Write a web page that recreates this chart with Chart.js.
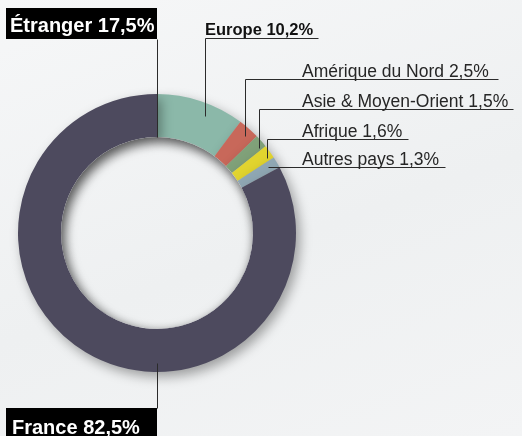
<!DOCTYPE html>
<html lang="fr">
<head>
  <meta charset="UTF-8" />
  <title>Répartition France / Étranger</title>
  <script src="https://cdn.jsdelivr.net/npm/chart.js"></script>
  <style>
    html, body {
      margin: 0;
      padding: 0;
      width: 522px;
      height: 436px;
      overflow: hidden;
      background: linear-gradient(160deg, #f6f7f8 0%, #eef0f1 55%, #f3f4f5 100%);
    }
    #wrap { width: 522px; height: 436px; position: relative; }
  </style>
</head>
<body>
<div id="wrap"><canvas id="donut" width="522" height="436"></canvas></div>

<script>
  // data
  const regions = ['Europe', 'Amérique du Nord', 'Asie & Moyen-Orient', 'Afrique', 'Autres pays', 'France'];
  const shares = [10.2, 2.5, 1.5, 1.6, 1.3, 82.5];
  const sliceColors = ['#8bb8a9', '#c8685a', '#80a179', '#e1d42f', '#8fa7b3', '#4d4a5e'];
  const labelTexts = ['Europe 10,2%', 'Amérique du Nord 2,5%', 'Asie & Moyen-Orient 1,5%', 'Afrique 1,6%', 'Autres pays 1,3%'];
  const abroadLabel = 'Étranger 17,5%';
  const franceLabel = 'France 82,5%';

  const FONT = '"Liberation Sans", Arial, sans-serif';

  // drop shadow around the ring
  const ringShadow = {
    id: 'ringShadow',
    beforeDatasetDraw(chart) {
      const ctx = chart.ctx;
      ctx.save();
      ctx.shadowColor = 'rgba(0,0,0,0.35)';
      ctx.shadowBlur = 12;
      ctx.shadowOffsetX = 4;
      ctx.shadowOffsetY = 5;
    },
    afterDatasetDraw(chart) {
      chart.ctx.restore();
    }
  };

  // inset shadow in the hole + leader lines and labels
  const callouts = {
    id: 'callouts',
    afterDraw(chart) {
      const ctx = chart.ctx;
      const arcs = chart.getDatasetMeta(0).data;
      const a0 = arcs[0];
      const cx = a0.x, cy = a0.y, R = a0.outerRadius, r = a0.innerRadius;

      // hole inset shadow
      ctx.save();
      ctx.beginPath();
      ctx.arc(cx, cy, r, 0, Math.PI * 2);
      ctx.clip();
      ctx.shadowColor = 'rgba(0,0,0,0.5)';
      ctx.shadowBlur = 11;
      ctx.shadowOffsetX = 2;
      ctx.shadowOffsetY = 4;
      ctx.beginPath();
      ctx.rect(cx - r - 60, cy - r - 60, 2 * r + 120, 2 * r + 120);
      ctx.arc(cx, cy, r, 0, Math.PI * 2, true);
      ctx.fillStyle = '#f2f3f4';
      ctx.fill('evenodd');
      ctx.restore();

      ctx.save();
      ctx.strokeStyle = '#2b2b2b';
      ctx.lineWidth = 1;

      // point inside a slice at a fraction of its angle and a given radius
      function inSlice(i, frac, rad) {
        const a = arcs[i];
        const ang = a.startAngle + (a.endAngle - a.startAngle) * frac;
        return { x: cx + Math.cos(ang) * rad, y: cy + Math.sin(ang) * rad };
      }

      function line(x1, y1, x2, y2) {
        ctx.beginPath();
        ctx.moveTo(Math.round(x1) + 0.5, Math.round(y1) + 0.5);
        ctx.lineTo(Math.round(x2) + 0.5, Math.round(y2) + 0.5);
        ctx.stroke();
      }

      // Étranger box + line down to the hole
      ctx.fillStyle = '#000';
      ctx.fillRect(6, 8, cx - 6, 31);
      ctx.fillStyle = '#fff';
      ctx.font = 'bold 20px ' + FONT;
      ctx.textBaseline = 'alphabetic';
      ctx.fillText(abroadLabel, 10, 32);
      line(cx, 39, cx, cy - r);

      // France box + line
      ctx.fillStyle = '#000';
      ctx.fillRect(6, 408, cx - 6, 30);
      ctx.fillStyle = '#fff';
      ctx.fillText(franceLabel, 12, 434);
      line(cx, cy + R - 9, cx, 408);

      // Europe label
      ctx.fillStyle = '#111';
      ctx.font = 'bold 16.5px ' + FONT;
      ctx.fillText(labelTexts[0], 205, 35);
      const pe = inSlice(0, 0.5, R - 16);
      line(205, 38, 318, 38);
      line(205, 38, 205, pe.y);

      // small region labels
      ctx.font = '17.5px ' + FONT;
      ctx.fillStyle = '#262626';
      const rows = [
        { i: 1, y: 79, x0: 245, x1: 498, frac: 0.5 },
        { i: 2, y: 109, x0: 259, x1: 513, frac: 0.5 },
        { i: 3, y: 139, x0: 267, x1: 408, frac: 0.5 },
        { i: 4, y: 167, x0: 268, x1: 445, frac: 0.5 }
      ];
      rows.forEach(rw => {
        ctx.fillText(labelTexts[rw.i], 302, rw.y - 2);
        line(rw.x0, rw.y, rw.x1, rw.y);
        if (rw.i < 4) {
          const p = inSlice(rw.i, rw.frac, R - 10);
          line(rw.x0, rw.y, rw.x0, p.y);
        }
      });
      ctx.restore();
    }
  };

  new Chart(document.getElementById('donut'), {
    type: 'doughnut',
    data: {
      labels: regions,
      datasets: [{
        data: shares,
        backgroundColor: sliceColors,
        borderWidth: 0
      }]
    },
    options: {
      responsive: false,
      animation: false,
      cutout: '69%',
      layout: { padding: { left: 18, right: 226, top: 94, bottom: 64 } },
      plugins: {
        legend: { display: false },
        tooltip: { enabled: false }
      }
    },
    plugins: [ringShadow, callouts]
  });
</script>
</body>
</html>
